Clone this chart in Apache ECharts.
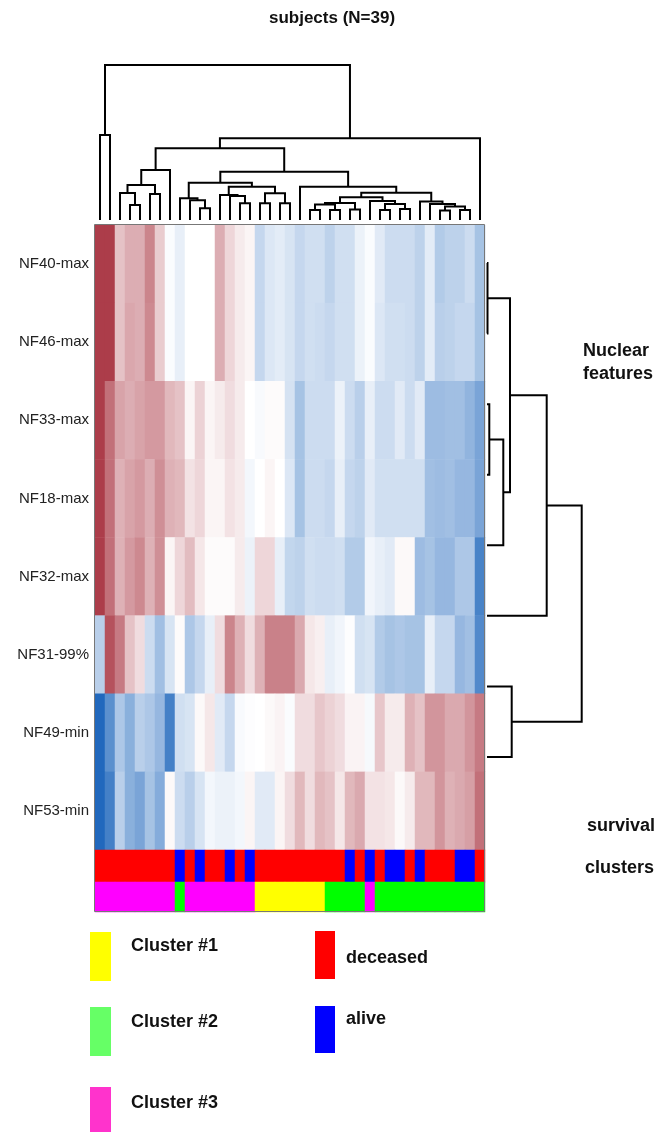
<!DOCTYPE html>
<html>
<head>
<meta charset="utf-8">
<script src="https://cdn.jsdelivr.net/npm/echarts@6/dist/echarts.min.js"></script>
<style>
  html, body { margin: 0; padding: 0; background: #fff; }
  #chart { width: 660px; height: 1132px; }
</style>
</head>
<body>
<div id="chart"></div>
<script>
// row labels, top to bottom
const features = ['NF40-max', 'NF46-max', 'NF33-max', 'NF18-max', 'NF32-max', 'NF31-99%', 'NF49-min', 'NF53-min']

// z-scored values per feature, subjects in dendrogram order (39)
const nf40Max = [0.95, 0.95, 0.3, 0.4, 0.4, 0.6, 0.25, -0.02, -0.1, 0, 0, 0, 0.4, 0.2, 0.1, 0.05, -0.25, -0.15, -0.12, -0.17, -0.25, -0.2, -0.2, -0.28, -0.2, -0.2, -0.08, -0.02, -0.13, -0.22, -0.22, -0.22, -0.28, -0.12, -0.33, -0.28, -0.28, -0.22, -0.38]
const nf46Max = [0.95, 0.95, 0.3, 0.43, 0.4, 0.58, 0.25, -0.02, -0.1, 0, 0, 0, 0.4, 0.2, 0.1, 0.05, -0.25, -0.15, -0.12, -0.17, -0.25, -0.2, -0.22, -0.25, -0.2, -0.2, -0.08, -0.02, -0.15, -0.2, -0.2, -0.22, -0.28, -0.12, -0.3, -0.28, -0.25, -0.25, -0.38]
const nf33Max = [0.95, 0.7, 0.45, 0.4, 0.45, 0.5, 0.5, 0.35, 0.3, 0.05, 0.22, 0.05, 0.1, 0.17, 0.1, 0, -0.03, 0.02, 0.02, -0.18, -0.38, -0.22, -0.22, -0.22, -0.08, -0.22, -0.3, -0.1, -0.22, -0.22, -0.13, -0.22, -0.13, -0.42, -0.42, -0.4, -0.4, -0.47, -0.57]
const nf18Max = [0.95, 0.7, 0.38, 0.45, 0.5, 0.4, 0.55, 0.38, 0.35, 0.14, 0.2, 0.05, 0.05, 0.14, 0.1, -0.05, 0, 0.05, 0, -0.15, -0.38, -0.22, -0.22, -0.25, -0.1, -0.25, -0.28, -0.13, -0.2, -0.2, -0.2, -0.2, -0.2, -0.4, -0.42, -0.4, -0.45, -0.45, -0.57]
const nf32Max = [0.95, 0.7, 0.38, 0.5, 0.58, 0.38, 0.55, 0.05, 0.2, 0.33, 0.12, 0.02, 0.02, 0.02, 0.1, -0.08, 0.2, 0.2, -0.1, -0.26, -0.28, -0.2, -0.22, -0.22, -0.2, -0.33, -0.33, -0.06, -0.1, -0.13, 0.03, 0.03, -0.42, -0.38, -0.45, -0.45, -0.35, -0.35, -0.78]
const nf31p99 = [-0.3, 0.85, 0.65, 0.3, 0.17, -0.22, -0.4, -0.17, 0.02, -0.35, -0.25, -0.1, 0.17, 0.6, 0.38, 0.17, 0.38, 0.62, 0.62, 0.62, 0.42, 0.12, 0.08, -0.1, -0.06, -0.01, -0.2, -0.17, -0.33, -0.38, -0.35, -0.38, -0.38, -0.1, -0.25, -0.25, -0.45, -0.4, -0.74]
const nf49Min = [-0.95, -0.7, -0.35, -0.5, -0.3, -0.35, -0.45, -0.8, -0.2, -0.17, 0.03, 0.12, -0.13, -0.25, -0.03, -0.01, 0, 0.03, 0.06, -0.02, 0.17, 0.17, 0.28, 0.22, 0.17, 0.06, 0.06, -0.04, 0.28, 0.1, 0.1, 0.38, 0.3, 0.52, 0.52, 0.42, 0.42, 0.52, 0.65]
const nf53Min = [-0.95, -0.8, -0.3, -0.5, -0.57, -0.38, -0.52, 0.03, -0.22, -0.3, -0.17, -0.05, -0.08, -0.08, -0.05, 0.05, -0.13, -0.13, 0.05, 0.17, 0.35, 0.17, 0.35, 0.3, 0.12, 0.35, 0.42, 0.14, 0.14, 0.12, 0.03, 0.1, 0.35, 0.35, 0.52, 0.38, 0.42, 0.47, 0.7]

// D = deceased, A = alive
const survival = ['D', 'D', 'D', 'D', 'D', 'D', 'D', 'D', 'A', 'D', 'A', 'D', 'D', 'A', 'D', 'A', 'D', 'D', 'D', 'D', 'D', 'D', 'D', 'D', 'D', 'A', 'D', 'A', 'D', 'A', 'A', 'D', 'A', 'D', 'D', 'D', 'A', 'A', 'D']
const clusters = [3, 3, 3, 3, 3, 3, 3, 3, 2, 3, 3, 3, 3, 3, 3, 3, 1, 1, 1, 1, 1, 1, 1, 2, 2, 2, 2, 3, 2, 2, 2, 2, 2, 2, 2, 2, 2, 2, 2]

// linkage, scipy style: [a, b, height], merge k gets id n + k
const colMerges = [
  [3, 4, 15], [2, 39, 27], [5, 6, 26], [40, 41, 35], [42, 7, 50],
  [10, 11, 11.7], [9, 44, 19.7], [8, 45, 21.7],
  [14, 15, 16.7], [13, 47, 24], [12, 48, 25],
  [16, 17, 16.7], [18, 19, 16.7], [50, 51, 26.7], [49, 52, 33.3], [46, 53, 37.3],
  [21, 22, 10], [23, 24, 10], [55, 56, 15.5], [25, 26, 10.5], [57, 58, 17],
  [28, 29, 10], [30, 31, 11], [60, 61, 16], [27, 62, 19], [59, 63, 22.7],
  [34, 35, 9.5], [36, 37, 10], [65, 66, 13.5], [33, 67, 16], [32, 68, 18.5],
  [64, 69, 27.3], [20, 70, 33.3], [54, 71, 48.3], [43, 72, 71.7],
  [73, 38, 81.7], [0, 1, 85], [75, 74, 155]
]
const rowMerges = [
  [0, 1, 0.5], [2, 3, 2.3], [9, 4, 16.3], [8, 10, 23], [11, 5, 59.7], [6, 7, 24.7], [12, 13, 94.7]
]

const heatRows = [nf40Max, nf46Max, nf33Max, nf18Max, nf32Max, nf31p99, nf49Min, nf53Min]
const subjects = nf40Max.map((v, i) => 'S' + (i + 1))

const heatData = []
heatRows.forEach((row, r) => {
  row.forEach((v, c) => heatData.push([c, r, v]))
})
const survivalData = survival.map((s, c) => [c, 0, s === 'A' ? 1 : 0])
const clusterData = clusters.map((k, c) => [c, 0, k])

function dendroSegments(merges, n) {
  const pos = []
  const h = []
  for (let i = 0; i < n; i++) {
    pos[i] = i
    h[i] = 0
  }
  const segs = []
  merges.forEach((m, k) => {
    const [a, b, ht] = m
    pos[n + k] = (pos[a] + pos[b]) / 2
    h[n + k] = ht
    segs.push([[pos[a], h[a]], [pos[a], ht], [pos[b], ht], [pos[b], h[b]]])
  })
  return segs
}

const colSegs = dendroSegments(colMerges, subjects.length)
const rowSegs = dendroSegments(rowMerges, features.length).map(s => s.map(p => [p[1], p[0]]))

const FONT = "'Liberation Sans', Arial, sans-serif"
const boldText = (text, x, y, size, align) => ({
  type: 'text',
  x: x,
  y: y,
  style: {
    text: text,
    fill: '#111',
    font: 'bold ' + size + 'px ' + FONT,
    textAlign: align || 'left',
    textVerticalAlign: 'middle',
    lineHeight: 23
  }
})
const swatch = (x, y, w, h, color) => ({
  type: 'rect',
  shape: { x: x, y: y, width: w, height: h },
  style: { fill: color }
})

const hidden = { show: false }
const catX = i => ({
  type: 'category', gridIndex: i, data: subjects,
  axisLine: hidden, axisTick: hidden, axisLabel: hidden, splitLine: hidden
})
const catY = (i, data, showLabel) => ({
  type: 'category', gridIndex: i, data: data, inverse: true,
  axisLine: hidden, axisTick: hidden, splitLine: hidden,
  axisLabel: showLabel
    ? { show: true, fontSize: 15, color: '#222', margin: 6, fontFamily: FONT }
    : hidden
})

const myChart = echarts.init(document.getElementById('chart'), null, { renderer: 'canvas' })

const options = {
  animation: false,
  backgroundColor: '#fff',
  grid: [
    { left: 95, top: 225, width: 390, height: 625 },  // heatmap
    { left: 95, top: 850, width: 390, height: 32 },   // survival
    { left: 95, top: 882, width: 390, height: 30 },   // clusters
    { left: 95, top: 65, width: 390, height: 155 },   // column dendrogram
    { left: 487, top: 263, width: 95, height: 494 }   // row dendrogram
  ],
  xAxis: [
    catX(0), catX(1), catX(2),
    { type: 'value', gridIndex: 3, min: -0.5, max: 38.5, show: false },
    { type: 'value', gridIndex: 4, min: 0, max: 95, show: false }
  ],
  yAxis: [
    catY(0, features, true),
    catY(1, ['survival'], false),
    catY(2, ['cluster'], false),
    { type: 'value', gridIndex: 3, min: 0, max: 155, show: false },
    { type: 'value', gridIndex: 4, min: 0, max: 7, inverse: true, show: false }
  ],
  visualMap: [
    {
      type: 'continuous', min: -1, max: 1, seriesIndex: 0, dimension: 2, show: false,
      inRange: { color: ['#1560b9', '#ffffff', '#a83340'] }
    },
    {
      type: 'piecewise', seriesIndex: 1, dimension: 2, show: false,
      pieces: [{ value: 0, color: '#ff0000' }, { value: 1, color: '#0000ff' }]
    },
    {
      type: 'piecewise', seriesIndex: 2, dimension: 2, show: false,
      pieces: [{ value: 1, color: '#ffff00' }, { value: 2, color: '#00ff00' }, { value: 3, color: '#ff00ff' }]
    }
  ],
  series: [
    { type: 'heatmap', xAxisIndex: 0, yAxisIndex: 0, data: heatData, silent: true },
    { type: 'heatmap', xAxisIndex: 1, yAxisIndex: 1, data: survivalData, silent: true },
    { type: 'heatmap', xAxisIndex: 2, yAxisIndex: 2, data: clusterData, silent: true },
    {
      type: 'lines', coordinateSystem: 'cartesian2d', xAxisIndex: 3, yAxisIndex: 3,
      polyline: true, silent: true,
      lineStyle: { color: '#000', width: 2, opacity: 1 },
      data: colSegs.map(c => ({ coords: c }))
    },
    {
      type: 'lines', coordinateSystem: 'cartesian2d', xAxisIndex: 4, yAxisIndex: 4,
      polyline: true, silent: true,
      lineStyle: { color: '#000', width: 2, opacity: 1 },
      data: rowSegs.map(c => ({ coords: c }))
    }
  ],
  graphic: [
    {
      type: 'rect', z: 100, silent: true,
      shape: { x: 94.5, y: 224.5, width: 390, height: 687 },
      style: { fill: 'none', stroke: '#777', lineWidth: 1 }
    },
    boldText('subjects (N=39)', 332, 18, 17, 'center'),
    boldText('Nuclear\nfeatures', 583, 363, 18),
    boldText('survival', 587, 826, 18),
    boldText('clusters', 585, 868, 18),
    swatch(90, 932, 21, 49, '#ffff00'),
    swatch(90, 1007, 21, 49, '#66ff66'),
    swatch(90, 1087, 21, 46, '#ff33cc'),
    swatch(315, 931, 20, 48, '#ff0000'),
    swatch(315, 1006, 20, 47, '#0000ff'),
    boldText('Cluster #1', 131, 946, 18),
    boldText('Cluster #2', 131, 1022, 18),
    boldText('Cluster #3', 131, 1103, 18),
    boldText('deceased', 346, 958, 18),
    boldText('alive', 346, 1019, 18)
  ]
}

myChart.setOption(options)
</script>
</body>
</html>
